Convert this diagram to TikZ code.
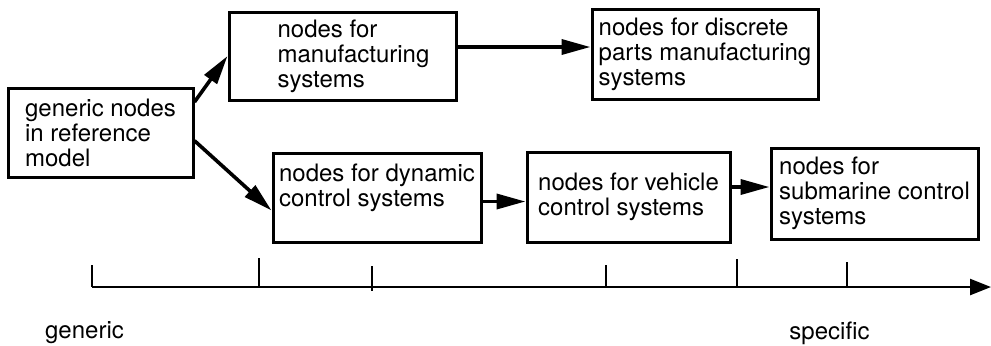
\documentclass[tikz,border=0pt]{standalone}
\usepackage{fontspec}
\setmainfont{TeX Gyre Heros}
\usepackage{tikz}
\usetikzlibrary{arrows.meta}

\tikzset{
	blk/.style={draw, line width=1.5pt, align=left, inner xsep=2pt,
		font=\fontsize{12}{12.5}\selectfont},
	arr/.style={line width=1.8pt, -{Triangle[length=14.5pt,width=7.5pt]}},
	tick/.style={line width=1pt},
}

\begin{document}
\begin{tikzpicture}[x=0.5pt,y=-0.5pt]
		\useasboundingbox (0,0) rectangle (991,345);

		\node[blk, minimum width=92.5pt, minimum height=44.5pt] (gen) at (100.5,132.5)
			{generic nodes\\in reference\\model};
		\node[blk, minimum width=113.5pt, minimum height=44pt] (man) at (342.5,56)
			{\hspace*{11pt}nodes for\\\hspace*{11pt}manufacturing\\\hspace*{11pt}systems};
		\node[blk, minimum width=113pt, minimum height=45pt] (disc) at (705,54)
			{nodes for discrete\\parts manufacturing\\systems};
		\node[blk, minimum width=104pt, minimum height=44.5pt] (dyn) at (377,197.5)
			{nodes for dynamic\\control systems\\\mbox{}};
		\node[blk, minimum width=101.5pt, minimum height=45pt] (veh) at (628.5,197)
			{nodes for vehicle\\control systems};
		\node[blk, minimum width=103.5pt, minimum height=45.5pt] (sub) at (874.5,193.5)
			{nodes for\\submarine control\\systems};

		\draw[arr] (gen.18) -- (man.west);
		\draw[arr] (gen.-5) -- (dyn.187);
		\draw[arr] ([yshift=4.5pt]man.east) -- ([yshift=4.5pt]man.east -| disc.west);
		\draw[arr] ([yshift=-2pt]dyn.east) -- ([yshift=-2pt]dyn.east -| veh.west);
		\draw[arr] ([yshift=5pt]veh.east) -- ([yshift=5pt]veh.east -| sub.west);

		% scale from generic to specific
		\coordinate (ax0) at (92,287);
		\coordinate (ax1) at (991,287);
		\draw[line width=1.2pt, -{Triangle[length=10.5pt,width=8pt]}] (ax0) -- (ax1);
		\draw[tick] (92,265) -- (ax0);
		\draw[tick] (259,258) -- (259,287);
		\draw[tick] (372,266) -- (372,291);
		\draw[tick] (606,265) -- (606,287);
		\draw[tick] (737,259) -- (737,287);
		\draw[tick] (847,262) -- (847,287);

		\node[font=\fontsize{12}{12.5}\selectfont] (gnc) at (84.5,333) {generic};
		\node[font=\fontsize{12}{12.5}\selectfont] (spc) at (829.5,333) {specific};

	\end{tikzpicture}
\end{document}
